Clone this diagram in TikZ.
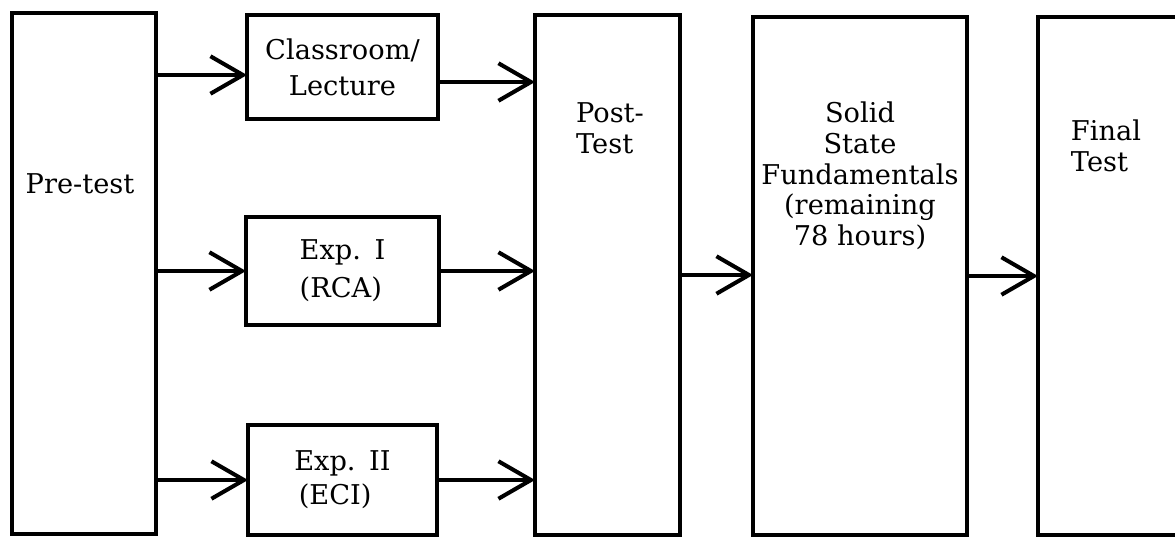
\documentclass[tikz,border=0pt]{standalone}
\usepackage{fontspec}
\setmainfont{DejaVu Serif}
\usepackage{tikz}
\usetikzlibrary{arrows.meta,positioning}

\begin{document}
\begin{tikzpicture}[
    >={Straight Barb[length=6.5mm, width=7.5mm]}, % open arrow heads
    line width=2.3pt,
    font=\fontsize{15.5}{17.5}\selectfont,
    % styles
    block/.style={
        draw,
        minimum width=3.82cm,
        minimum height=2.12cm,
        align=center,
        outer sep=0pt
    },
    tallblock/.style={
        draw,
        minimum height=10.4cm,
        outer sep=0pt
    }
]
    \useasboundingbox (0,0) rectangle (23.5,-10.74);
    \clip (0,0) rectangle (23.5,-10.74);

    % --- 1. Pre-test (Left) ---
    \node[tallblock, minimum width=2.88cm, minimum height=10.42cm] (pretest) at (1.68,-5.47) {};
    \node (pretesttext) at ([xshift=-0.08cm, yshift=-3.42cm]pretest.north) {Pre-test};

    % --- 2. The three groups ---
    \node[block, right=1.82cm of pretest.north east, anchor=north west, yshift=-0.04cm, minimum height=2.08cm] (classroom) {Classroom/\\[3pt]Lecture};
    \node[block, below=1.96cm of classroom, minimum width=3.86cm, minimum height=2.16cm, align=left] (expone) {Exp.\enspace I\\[4pt](RCA)};
    \node[block, below=2.0cm of expone, minimum width=3.78cm, minimum height=2.2cm, align=left] (exptwo) {Exp.\enspace II\\[2pt]\,(ECI)};

    % --- 3. Post-test ---
    \node[tallblock, right=1.94cm of classroom.north east, anchor=north west, minimum width=2.9cm] (posttest) {};
    \node[align=left] (posttesttext) at ([xshift=0.05cm, yshift=-2.26cm]posttest.north) {Post-\\Test};

    % --- 4. Solid State Fundamentals ---
    \node[tallblock, right=1.46cm of posttest.north east, anchor=north west, yshift=-0.04cm, minimum width=4.28cm, minimum height=10.36cm] (solidstate) {};
    \node[align=center] (solidstatetext) at ([yshift=-3.18cm]solidstate.north) {Solid\\State\\Fundamentals\\(remaining\\78 hours)};

    % --- 5. Final Test (runs off the right edge) ---
    \node[tallblock, right=1.42cm of solidstate.north east, anchor=north west, minimum width=4cm, minimum height=10.36cm] (finaltest) {};
    \node[align=left] (finaltesttext) at ([xshift=1.36cm, yshift=-2.58cm]finaltest.north west) {Final\\Test};

    % --- 6. Arrows ---
    \coordinate (classin) at ([yshift=-0.16cm]classroom.west);
    \coordinate (classout) at ([yshift=-0.3cm]classroom.east);
    \draw[->] (pretest.east |- classin) -- (classin);
    \draw[->] (pretest.east |- expone) -- (expone.west);
    \draw[->] (pretest.east |- exptwo) -- (exptwo.west);

    \draw[->] (classout) -- (classout -| posttest.west);
    \draw[->] (expone.east) -- (expone.east -| posttest.west);
    \draw[->] (exptwo.east) -- (exptwo.east -| posttest.west);

    \draw[->] (posttest.east) -- (posttest.east -| solidstate.west);
    \draw[->] (solidstate.east) -- (solidstate.east -| finaltest.west);

\end{tikzpicture}
\end{document}
